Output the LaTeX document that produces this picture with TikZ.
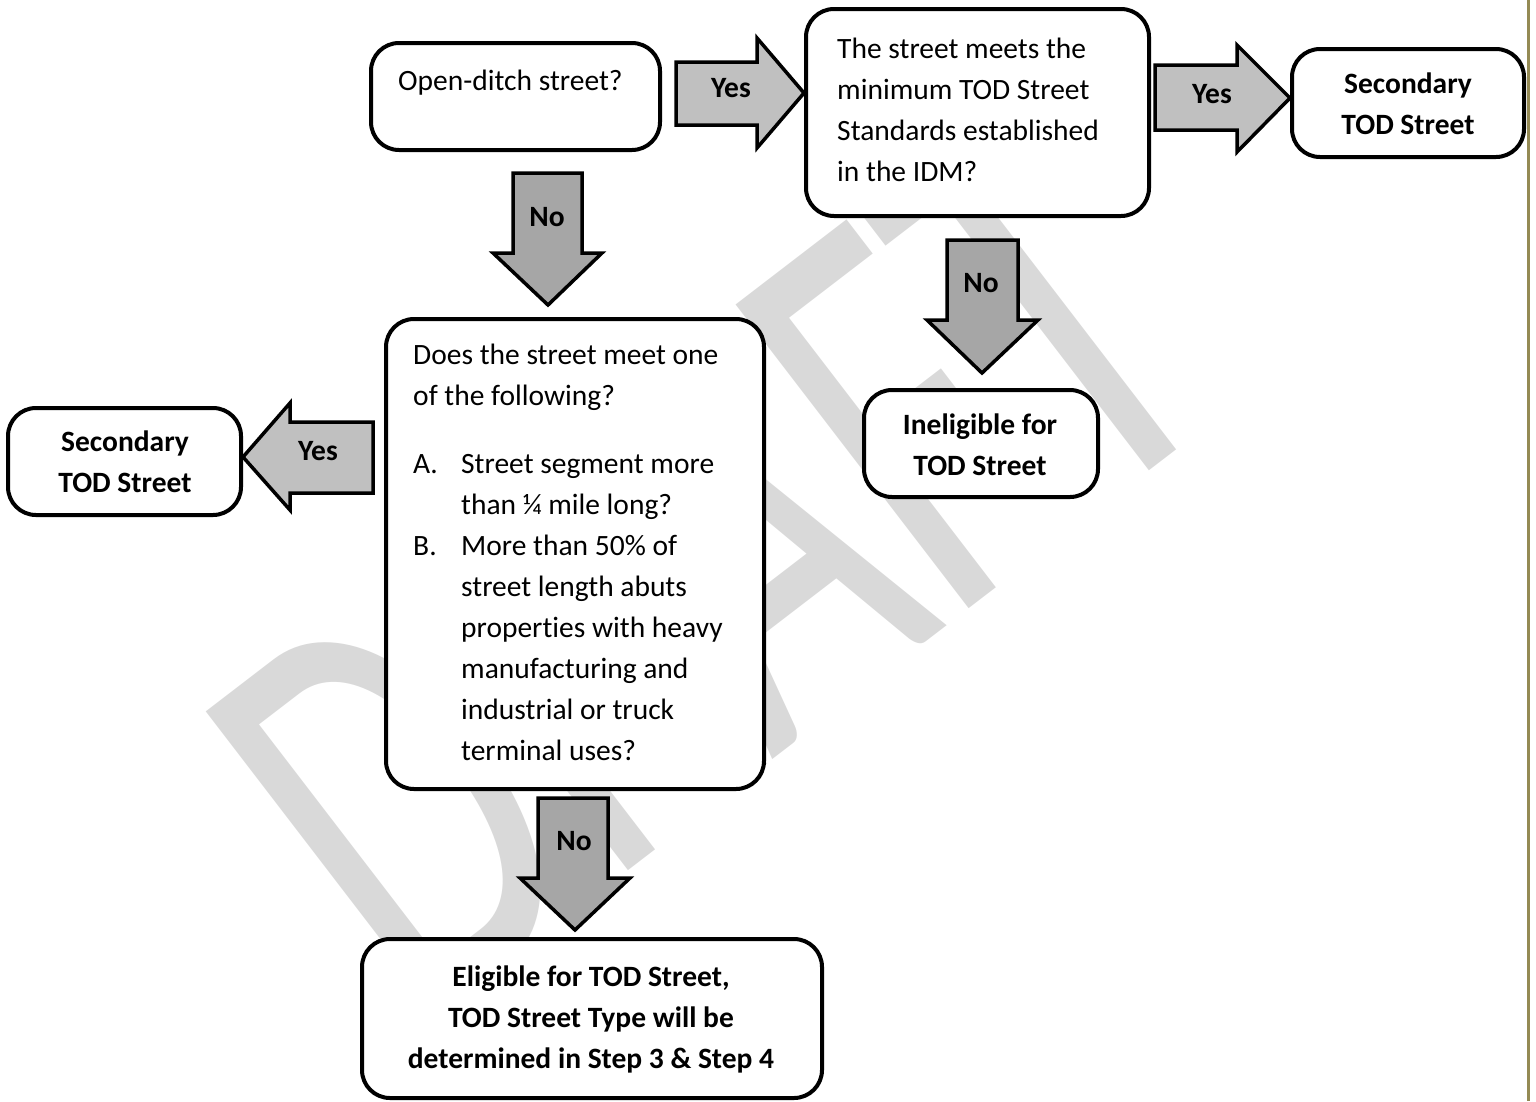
\documentclass[tikz,border=0pt]{standalone}
\usepackage{fontspec}
\setmainfont{Carlito}[Ligatures=CommonOff]
\definecolor{wmgray}{HTML}{D9D9D9}
\definecolor{yesgray}{HTML}{C0C0C0}
\definecolor{nogray}{HTML}{A6A6A6}
\definecolor{olive}{HTML}{948A54}
\tikzset{
  box/.style={draw=black, line width=4pt, rounded corners=28pt, fill=white},
  yesarrow/.style={draw=black, line width=3.5pt, fill=yesgray, line join=miter},
  noarrow/.style={draw=black, line width=3.5pt, fill=nogray, line join=miter},
  lbl/.style={font=\fontsize{29.5}{41}\selectfont\bfseries, inner sep=0pt},
  txt/.style={font=\fontsize{29.5}{41}\selectfont, inner sep=0pt, align=flush left, anchor=base west},
  btxt/.style={font=\fontsize{29.5}{41}\selectfont\bfseries, inner sep=0pt, align=flush center, anchor=base},
}
\begin{document}
\begin{tikzpicture}[x=1pt,y=-1pt]
\useasboundingbox (0,0) rectangle (1536,1101);
% watermark
\begin{scope}[shift={(418,1032)}, rotate=37.5, yscale=1.55]
  \node[transform shape, anchor=base west, inner sep=0pt, text=wmgray, font=\fontsize{385}{385}\selectfont] (wm) at (0,0) {DRAFT};
\end{scope}
% right rule
\draw[olive, line width=3pt] (1528,0) -- (1528,1101);

% boxes
\node[box, minimum width=289pt, minimum height=107pt] (b1) at (515.5,96.5) {};
\node[box, minimum width=343pt, minimum height=207pt] (b2) at (977.5,112.5) {};
\node[box, minimum width=232pt, minimum height=108pt] (b3) at (1408,103) {};
\node[box, minimum width=378pt, minimum height=470pt] (b4) at (575,554) {};
\node[box, minimum width=233pt, minimum height=107pt] (b5) at (124.5,461.5) {};
\node[box, minimum width=234pt, minimum height=107pt] (b6) at (981,443.5) {};
\node[box, minimum width=460pt, minimum height=159pt] (b7) at (592,1018.5) {};

% texts
\node[txt] (t1) at (398,90) {Open-ditch street?};
\node[txt, text width=320pt] (t2) at (837,58) {The street meets the\\minimum TOD Street\\Standards established\\in the IDM?};
\node[btxt, text width=220pt] (t3) at (1408,93) {Secondary\\TOD Street};
\node[txt, text width=360pt] (t4) at (413,364) {Does the street meet one\\of the following?};
\node[txt] (t4a) at (413,473) {A.};
\node[txt, text width=300pt] (t4at) at (461,473) {Street segment more\\than ¼ mile long?};
\node[txt] (t4b) at (413,555) {B.};
\node[txt, text width=300pt] (t4bt) at (461,555) {More than 50\% of\\street length abuts\\properties with heavy\\manufacturing and\\industrial or truck\\terminal uses?};
\node[btxt, text width=220pt] (t5) at (125,451) {Secondary\\TOD Street};
\node[btxt, text width=220pt] (t6) at (980,434) {Ineligible for\\TOD Street};
\node[btxt, text width=440pt] (t7) at (591,986) {Eligible for TOD Street,\\TOD Street Type will be\\determined in Step 3 \& Step 4};

% block arrows
\draw[yesarrow] (676,62) -- (757,62) -- (757,38) -- (b2.west |- 0,93) -- (757,148) -- (757,125) -- (676,125) -- cycle;
\node[lbl] (y1) at (731,88) {Yes};
\draw[yesarrow] (1155,65) -- (1237,65) -- (1237,45) -- (b3.west |- 0,98) -- (1237,152) -- (1237,130) -- (1155,130) -- cycle;
\node[lbl] (y2) at (1212,94) {Yes};
\draw[yesarrow] (373,422) -- (290,422) -- (290,403) -- (b5.east |- 0,457) -- (290,510) -- (290,493) -- (373,493) -- cycle;
\node[lbl] (y3) at (318,451) {Yes};

\draw[noarrow] (513,173) -- (513,253) -- (493,253) -- (548,305) -- (602,253) -- (582,253) -- (582,173) -- cycle;
\node[lbl] (n1) at (547,217) {No};
\draw[noarrow] (947,240) -- (947,320) -- (927,320) -- (982,373) -- (1038,320) -- (1018,320) -- (1018,240) -- cycle;
\node[lbl] (n2) at (981,283) {No};
\draw[noarrow] (538,798) -- (538,878) -- (520,878) -- (575,930) -- (630,878) -- (608,878) -- (608,798) -- cycle;
\node[lbl] (n3) at (574,841) {No};
\end{tikzpicture}
\end{document}
